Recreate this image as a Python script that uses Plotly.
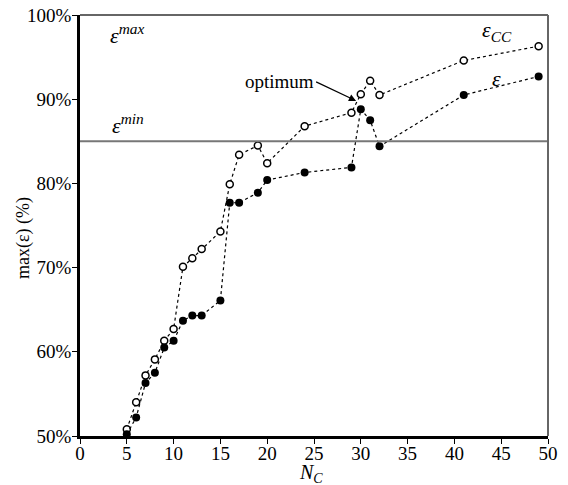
import plotly.graph_objects as go

nc = [5, 6, 7, 8, 9, 10, 11, 12, 13, 15, 16, 17, 19, 20, 24, 29, 30, 31, 32, 41, 49]
eps_cc = [50.8, 54.0, 57.2, 59.1, 61.3, 62.7, 70.1, 71.1, 72.2, 74.3, 79.9, 83.4,
          84.5, 82.4, 86.8, 88.4, 90.6, 92.2, 90.5, 94.6, 96.3]
eps = [50.2, 52.2, 56.3, 57.5, 60.5, 61.3, 63.7, 64.3, 64.3, 66.1, 77.7, 77.7,
       78.9, 80.4, 81.3, 81.9, 88.8, 87.5, 84.4, 90.5, 92.7]
eps_min = 85
x_range = [0, 50]
y_range = [50, 100]

FONT = "'Times New Roman', 'Liberation Serif', 'DejaVu Serif', serif"

fig = go.Figure()
fig.add_trace(go.Scatter(
    x=nc, y=eps_cc, mode="lines+markers",
    line=dict(color="black", width=1.2, dash="dot"),
    marker=dict(symbol="circle", size=7, color="white", line=dict(color="black", width=1.5)),
    cliponaxis=False, showlegend=False))
fig.add_trace(go.Scatter(
    x=nc, y=eps, mode="lines+markers",
    line=dict(color="black", width=1.2, dash="dot"),
    marker=dict(symbol="circle", size=8, color="black"),
    cliponaxis=False, showlegend=False))

fig.add_shape(type="line", xref="x", yref="y", x0=x_range[0], x1=x_range[1],
              y0=eps_min, y1=eps_min, line=dict(color="#777777", width=2))
fig.add_shape(type="line", xref="paper", yref="paper", x0=0, x1=1, y0=1, y1=1,
              line=dict(color="#666666", width=2))
fig.add_shape(type="line", xref="paper", yref="paper", x0=1, x1=1, y0=0, y1=1,
              line=dict(color="#666666", width=2))

ann_font = dict(family=FONT, size=22, color="black")
fig.add_annotation(x=3, y=97.8, xref="x", yref="y", text="<i>ε<sup>max</sup></i>",
                   showarrow=False, xanchor="left", yanchor="middle", font=ann_font)
fig.add_annotation(x=3.2, y=85.2, xref="x", yref="y", text="<i>ε<sup>min</sup></i>",
                   showarrow=False, xanchor="left", yanchor="bottom", font=ann_font)
fig.add_annotation(x=0.855, y=1.0, xref="paper", yref="paper", text="<i>ε<sub>CC</sub></i>",
                   showarrow=False, xanchor="left", yanchor="top", font=ann_font)
fig.add_annotation(x=43.8, y=92.4, xref="x", yref="y", text="<i>ε</i>",
                   showarrow=False, xanchor="left", yanchor="middle", font=ann_font)
fig.add_annotation(x=29.5, y=89.8, xref="x", yref="y", text="optimum",
                   showarrow=True, arrowhead=2, arrowsize=1.2, arrowwidth=1.2,
                   arrowcolor="black", ax=-40, ay=-19, xanchor="right",
                   font=dict(family=FONT, size=19, color="black"))

# axis titles as annotations
fig.add_annotation(x=0.493, y=-0.055, xref="paper", yref="paper",
                   text="<i>N<sub>C</sub></i>", showarrow=False,
                   xanchor="center", yanchor="top",
                   font=dict(family=FONT, size=20, color="black"))
fig.add_annotation(x=-0.122, y=0.47, xref="paper", yref="paper",
                   text="max(ε) (%)", showarrow=False, textangle=-90,
                   xanchor="center", yanchor="middle",
                   font=dict(family=FONT, size=18, color="black"))

fig.update_xaxes(range=x_range, dtick=5, tick0=0, showgrid=False, zeroline=False,
                 showline=True, linecolor="black", linewidth=2.5, automargin=False,
                 ticks="outside", ticklen=5, tickcolor="black", tickwidth=1,
                 ticklabelstandoff=-7,
                 tickfont=dict(family=FONT, size=19, color="black"))
fig.update_yaxes(range=y_range, dtick=10, tick0=50, showgrid=False, zeroline=False,
                 showline=True, linecolor="black", linewidth=2.5, automargin=False,
                 ticks="outside", ticklen=5, tickcolor="black", tickwidth=1,
                 ticklabelstandoff=-3, ticksuffix="%",
                 tickfont=dict(family=FONT, size=19, color="black"))

fig.update_layout(width=568, height=485, plot_bgcolor="white", paper_bgcolor="white",
                  margin=dict(l=80, r=20, t=15, b=49), font=dict(family=FONT))

fig.write_html("out.html")
